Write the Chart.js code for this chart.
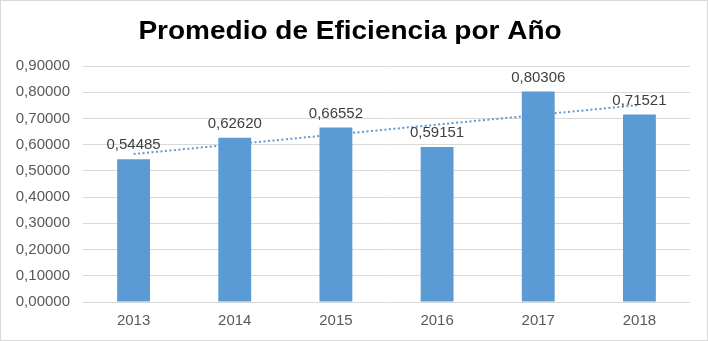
<!DOCTYPE html>
<html>
<head>
<meta charset="utf-8">
<script src="https://cdn.jsdelivr.net/npm/chart.js@4/dist/chart.umd.min.js"></script>
<style>
  html, body { margin: 0; padding: 0; background: #ffffff; }
  #wrap { position: relative; width: 708px; height: 341px; box-sizing: border-box; border: 1px solid #d9d9d9; }
  canvas { display: block; }
</style>
</head>
<body>
<div id="wrap"><canvas id="c"></canvas></div>
<script>
// Average efficiency per year
const years = ['2013', '2014', '2015', '2016', '2017', '2018'];
const efficiency = [0.54485, 0.62620, 0.66552, 0.59151, 0.80306, 0.71521];
const yTicks = [0, 0.1, 0.2, 0.3, 0.4, 0.5, 0.6, 0.7, 0.8, 0.9];
const chartTitle = 'Promedio de Eficiencia por Año';

const fmt = v => v.toFixed(5).replace('.', ',');

// Linear least-squares trend across the yearly averages
function linearTrend(values) {
  const n = values.length;
  const xs = values.map((_, i) => i + 1);
  const mx = xs.reduce((a, b) => a + b, 0) / n;
  const my = values.reduce((a, b) => a + b, 0) / n;
  let num = 0, den = 0;
  xs.forEach((x, i) => { num += (x - mx) * (values[i] - my); den += (x - mx) * (x - mx); });
  const slope = num / den;
  return xs.map(x => my + slope * (x - mx));
}
const trend = linearTrend(efficiency);

const BLUE = '#5B9BD5';
const FONT = "'Liberation Sans', Arial, sans-serif";

// Bold heading, slightly widened, above the plot
const heading = {
  id: 'heading',
  afterDraw(chart) {
    const ctx = chart.ctx;
    ctx.save();
    ctx.font = 'bold 25px ' + FONT;
    ctx.fillStyle = '#000000';
    ctx.textAlign = 'center';
    ctx.textBaseline = 'alphabetic';
    ctx.translate(349, 38);
    ctx.scale(1.12, 1);
    ctx.fillText(chartTitle, 0, 0);
    ctx.restore();
  }
};

// Value printed above each bar
const valueLabels = {
  id: 'valueLabels',
  afterDraw(chart) {
    const ctx = chart.ctx;
    const meta = chart.getDatasetMeta(0);
    ctx.save();
    ctx.font = '15px ' + FONT;
    ctx.fillStyle = '#404040';
    ctx.textAlign = 'center';
    ctx.textBaseline = 'middle';
    meta.data.forEach((bar, i) => {
      ctx.fillText(fmt(efficiency[i]), bar.x, bar.y - 14);
    });
    ctx.restore();
  }
};

new Chart(document.getElementById('c'), {
  data: {
    labels: years,
    datasets: [
      {
        type: 'bar',
        data: efficiency,
        backgroundColor: BLUE,
        barPercentage: 0.65,
        categoryPercentage: 0.5,
        order: 2
      },
      {
        type: 'line',
        data: trend,
        borderColor: BLUE,
        borderWidth: 2,
        borderDash: [2, 2.5],
        pointRadius: 0,
        fill: false,
        order: 1
      }
    ]
  },
  options: {
    responsive: true,
    maintainAspectRatio: false,
    animation: false,
    layout: { padding: { left: 0, right: 17, top: 65, bottom: 0 } },
    plugins: {
      legend: { display: false },
      tooltip: { enabled: false },
      title: { display: false }
    },
    scales: {
      x: {
        grid: { display: false, drawTicks: false },
        border: { display: false },
        ticks: { color: '#595959', font: { family: FONT, size: 15 }, padding: 10 }
      },
      y: {
        min: 0,
        max: 0.9,
        afterBuildTicks(scale) { scale.ticks = yTicks.map(v => ({ value: v })); },
        afterFit(scale) { scale.width = 82; },
        grid: { color: '#d9d9d9', lineWidth: 1, drawTicks: false },
        border: { display: false },
        ticks: {
          color: '#595959',
          font: { family: FONT, size: 15 },
          padding: 13,
          callback: v => fmt(v)
        }
      }
    }
  },
  plugins: [heading, valueLabels]
});
</script>
</body>
</html>
